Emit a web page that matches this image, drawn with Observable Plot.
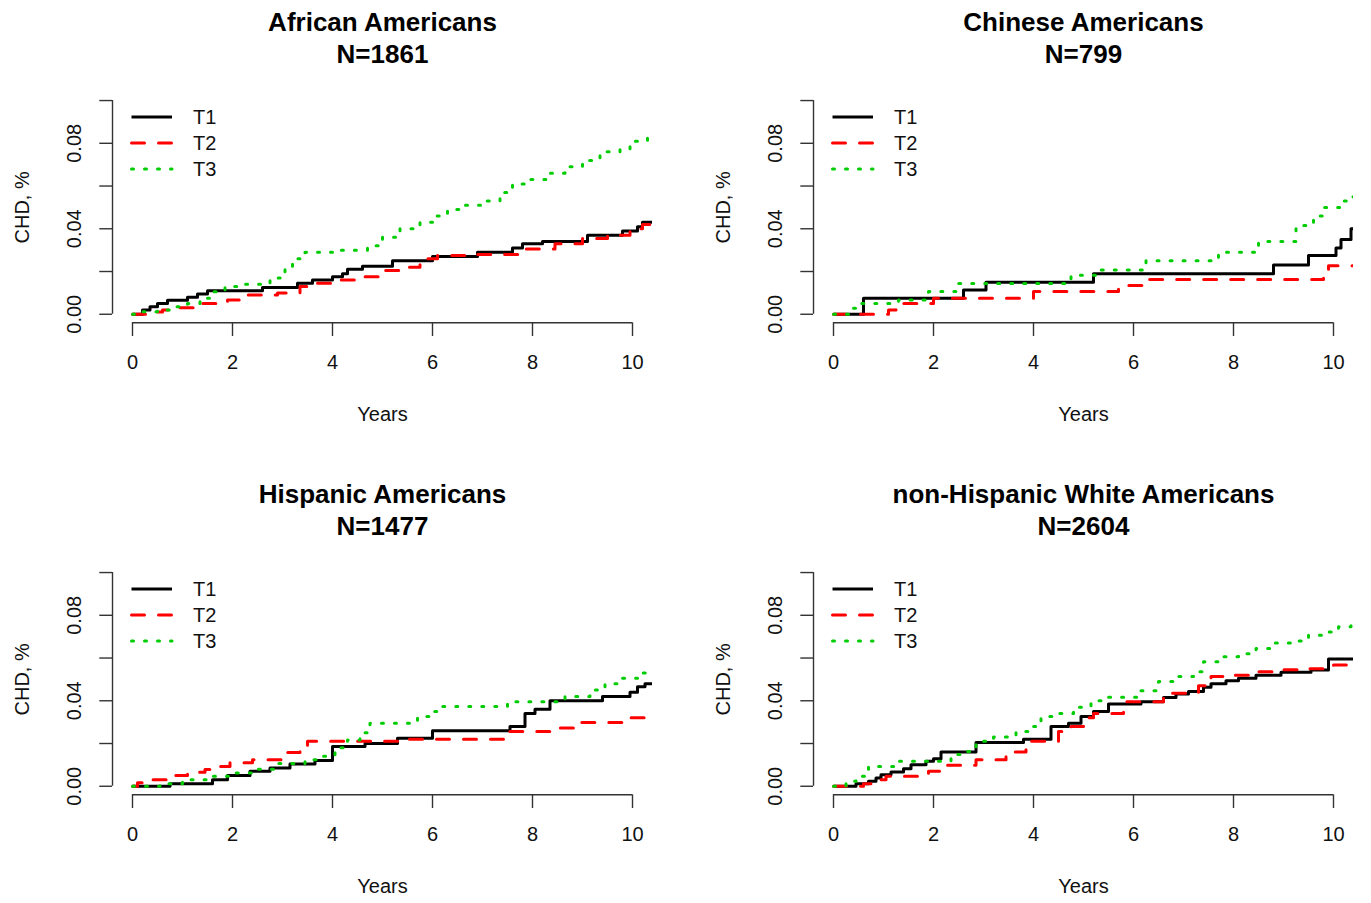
<!DOCTYPE html>
<html><head><meta charset="utf-8">
<script src="https://cdn.jsdelivr.net/npm/d3@7"></script>
<script src="https://cdn.jsdelivr.net/npm/@observablehq/plot@0.6"></script>
<style>
html,body{margin:0;padding:0;background:#fff;overflow:hidden}
#chart{position:relative;width:1371px;height:903px;font-family:"Liberation Sans",Arial,sans-serif;color:#111}
.panel{position:absolute}
.legend{position:absolute;left:130px;top:104px;font-size:20px;line-height:26px}
.legend .row{display:flex;align-items:center;height:26px}
.legend svg{display:block;margin-right:18px}
</style></head><body><div id="chart"></div>
<script>
// ---------- data ----------
const panelTitles = ["African Americans", "Chinese Americans", "Hispanic Americans", "non-Hispanic White Americans"];
const panelN = [1861, 799, 1477, 2604];
const groups = ["T1", "T2", "T3"];
const groupColors = ["#000000", "#ff0000", "#00cd00"];
const groupDash = [null, "13,14", "2,11"];
const xTicks = [0, 2, 4, 6, 8, 10];
const yTicks = [0, 0.02, 0.04, 0.06, 0.08, 0.10];
const yLabels = [0, 0.04, 0.08];
const followUpEnd = 10.6;

// African Americans
const africanT1Years = [0, 0.2, 0.35, 0.5, 0.7, 1.1, 1.3, 1.5, 2.6, 3.3, 3.6, 4.0, 4.2, 4.3, 4.6, 5.2, 6.0, 6.9, 7.6, 7.8, 8.2, 9.1, 9.8, 10.1, 10.2];
const africanT1Risk  = [0, 0.002, 0.0035, 0.005, 0.0065, 0.008, 0.0095, 0.011, 0.0125, 0.0145, 0.016, 0.0175, 0.019, 0.021, 0.0225, 0.025, 0.027, 0.029, 0.031, 0.033, 0.034, 0.037, 0.039, 0.041, 0.043];
const africanT2Years = [0, 0.3, 0.6, 0.9, 1.3, 1.9, 2.3, 2.9, 3.35, 3.7, 4.1, 4.55, 5.05, 5.35, 5.75, 6.1, 6.9, 7.85, 8.45, 9.0, 9.5, 9.95, 10.2];
const africanT2Risk  = [0, 0.001, 0.002, 0.003, 0.005, 0.0067, 0.009, 0.010, 0.013, 0.0145, 0.016, 0.0175, 0.0205, 0.022, 0.026, 0.0275, 0.028, 0.0305, 0.033, 0.0355, 0.037, 0.040, 0.042];
const africanT3Years = [0, 0.2, 0.5, 0.8, 1.1, 1.35, 1.6, 1.85, 2.2, 2.75, 3.05, 3.2, 3.45, 4.1, 4.7, 5.0, 5.35, 5.75, 6.0, 6.3, 6.55, 7.0, 7.35, 7.6, 7.85, 8.3, 8.65, 9.0, 9.35, 9.75, 9.95, 10.3];
const africanT3Risk  = [0, 0.0012, 0.002, 0.0035, 0.005, 0.0075, 0.0105, 0.013, 0.014, 0.017, 0.022, 0.026, 0.029, 0.030, 0.032, 0.036, 0.040, 0.043, 0.046, 0.049, 0.051, 0.053, 0.057, 0.061, 0.063, 0.066, 0.069, 0.072, 0.076, 0.077, 0.081, 0.084];

// Chinese Americans
const chineseT1Years = [0, 0.6, 2.6, 3.05, 5.2, 8.8, 9.5, 10.05, 10.15, 10.35];
const chineseT1Risk  = [0, 0.0075, 0.0113, 0.015, 0.019, 0.023, 0.0275, 0.031, 0.035, 0.040];
const chineseT2Years = [0, 1.1, 1.25, 1.4, 2.0, 4.0, 5.7, 6.3, 9.8, 9.9];
const chineseT2Risk  = [0, 0.002, 0.004, 0.005, 0.0075, 0.0106, 0.0134, 0.0163, 0.020, 0.0227];
const chineseT3Years = [0, 0.3, 0.5, 1.3, 1.9, 2.5, 4.75, 5.3, 6.25, 7.7, 8.5, 9.25, 9.6, 9.8, 10.15, 10.35];
const chineseT3Risk  = [0, 0.0028, 0.005, 0.0067, 0.0106, 0.0144, 0.0183, 0.0207, 0.025, 0.029, 0.034, 0.0415, 0.046, 0.050, 0.053, 0.055];

// Hispanic Americans
const hispanicT1Years = [0, 0.75, 1.6, 1.9, 2.35, 2.75, 3.15, 3.65, 4.0, 4.65, 5.3, 6.0, 7.55, 7.85, 8.05, 8.35, 9.4, 9.95, 10.1, 10.25];
const hispanicT1Risk  = [0, 0.0012, 0.003, 0.005, 0.007, 0.0085, 0.0104, 0.012, 0.0186, 0.020, 0.0225, 0.026, 0.028, 0.034, 0.036, 0.040, 0.042, 0.044, 0.0466, 0.048];
const hispanicT2Years = [0, 0.1, 0.4, 0.75, 1.1, 1.45, 1.7, 1.95, 2.4, 3.0, 3.35, 3.5, 5.5, 7.5, 8.4, 8.85, 9.8];
const hispanicT2Risk  = [0, 0.0016, 0.003, 0.005, 0.0065, 0.0078, 0.0093, 0.011, 0.0124, 0.0158, 0.018, 0.021, 0.022, 0.0256, 0.0272, 0.0298, 0.032];
const hispanicT3Years = [0, 0.55, 1.0, 1.5, 2.05, 2.4, 2.9, 3.45, 3.8, 4.05, 4.3, 4.55, 4.75, 5.7, 5.95, 6.2, 7.5, 8.65, 9.15, 9.45, 9.7, 10.1];
const hispanicT3Risk  = [0, 0.0012, 0.003, 0.0047, 0.0062, 0.008, 0.0106, 0.0124, 0.014, 0.018, 0.0217, 0.025, 0.0295, 0.0326, 0.035, 0.0373, 0.0396, 0.042, 0.045, 0.048, 0.0505, 0.053];

// non-Hispanic White Americans
const whiteT1Years = [0, 0.45, 0.7, 0.85, 0.95, 1.15, 1.4, 1.55, 1.85, 2.0, 2.15, 2.85, 3.8, 4.35, 4.7, 4.95, 5.2, 5.5, 6.15, 6.6, 6.85, 7.1, 7.4, 7.55, 7.85, 8.1, 8.45, 8.95, 9.55, 9.9];
const whiteT1Risk  = [0, 0.0012, 0.0023, 0.0039, 0.0054, 0.0067, 0.0082, 0.0101, 0.0117, 0.0129, 0.016, 0.0205, 0.022, 0.028, 0.0295, 0.0326, 0.035, 0.0385, 0.0396, 0.0415, 0.0432, 0.0443, 0.0463, 0.048, 0.0494, 0.0505, 0.052, 0.0533, 0.0544, 0.0595];
const whiteT2Years = [0, 0.6, 0.85, 1.05, 1.9, 2.25, 2.85, 3.45, 3.85, 4.5, 4.75, 5.0, 5.2, 5.8, 6.6, 7.3, 7.55, 8.0, 8.45, 8.95, 9.5, 10.0];
const whiteT2Risk  = [0, 0.0012, 0.003, 0.0047, 0.007, 0.0098, 0.0124, 0.016, 0.021, 0.0256, 0.028, 0.032, 0.034, 0.0396, 0.0435, 0.047, 0.0513, 0.052, 0.0536, 0.0545, 0.055, 0.0567];
const whiteT3Years = [0, 0.25, 0.45, 0.7, 1.3, 2.35, 2.6, 2.85, 3.2, 3.65, 3.9, 4.15, 4.45, 4.8, 5.15, 5.5, 6.15, 6.5, 6.85, 7.2, 7.4, 7.75, 8.1, 8.45, 8.8, 9.15, 9.5, 9.85, 10.1, 10.35];
const whiteT3Risk  = [0, 0.0023, 0.0047, 0.0093, 0.0117, 0.0148, 0.0163, 0.021, 0.023, 0.0256, 0.028, 0.0326, 0.034, 0.037, 0.040, 0.0416, 0.0447, 0.049, 0.0513, 0.0536, 0.0583, 0.0606, 0.062, 0.0645, 0.067, 0.068, 0.0707, 0.0722, 0.0746, 0.076];

const panelSeries = [
  [[africanT1Years, africanT1Risk], [africanT2Years, africanT2Risk], [africanT3Years, africanT3Risk]],
  [[chineseT1Years, chineseT1Risk], [chineseT2Years, chineseT2Risk], [chineseT3Years, chineseT3Risk]],
  [[hispanicT1Years, hispanicT1Risk], [hispanicT2Years, hispanicT2Risk], [hispanicT3Years, hispanicT3Risk]],
  [[whiteT1Years, whiteT1Risk], [whiteT2Years, whiteT2Risk], [whiteT3Years, whiteT3Risk]]
];

// ---------- layout ----------
const panelPos = [[0, 0], [701, 0], [0, 472], [701, 472]];
const W = 670, H = 431;
const xSpan = xTicks[xTicks.length - 1] - xTicks[0];
const xDomain = [xTicks[0] - 0.04 * xSpan, xTicks[xTicks.length - 1] + 0.04 * xSpan];
const ySpan = yTicks[yTicks.length - 1] - yTicks[0];
const yDomain = [yTicks[0] - 0.04 * ySpan, yTicks[yTicks.length - 1] + 0.04 * ySpan];
const xMid = (xTicks[0] + xTicks[xTicks.length - 1]) / 2;
const axisColor = "#333";

const chart = document.getElementById("chart");

panelSeries.forEach((series, i) => {
  const marks = [];
  series.forEach(([ts, vs], k) => {
    const rows = ts.map((t, j) => ({t, v: vs[j], g: groups[k]}));
    rows.push({t: followUpEnd, v: vs[vs.length - 1], g: groups[k]});
    marks.push(Plot.line(rows, {
      x: "t", y: "v", curve: "step-after",
      stroke: groupColors[k], strokeWidth: 3,
      strokeDasharray: groupDash[k],
      strokeLinecap: k === 0 ? "butt" : "round",
      strokeLinejoin: "round",
      clip: true
    }));
  });
  // axes
  marks.push(Plot.ruleX([xDomain[0]], {y1: yTicks[0], y2: yTicks[yTicks.length - 1], stroke: axisColor, strokeWidth: 1.4}));
  marks.push(Plot.ruleY([yDomain[0]], {x1: xTicks[0], x2: xTicks[xTicks.length - 1], stroke: axisColor, strokeWidth: 1.4}));
  marks.push(Plot.axisX(xTicks, {tickSize: 13.7, tickPadding: 18, fontSize: 20, stroke: axisColor, strokeWidth: 1.4, fill: "#111", label: null, tickFormat: d => String(d)}));
  marks.push(Plot.axisY(yTicks, {tickSize: 12.7, stroke: axisColor, strokeWidth: 1.4, tickFormat: () => "", label: null}));
  marks.push(Plot.text(yLabels, {y: d => d, text: d => d.toFixed(2), frameAnchor: "left", textAnchor: "middle", lineAnchor: "middle", dx: -38, rotate: -90, fontSize: 20, fill: "#111"}));
  // axis titles
  marks.push(Plot.text(["Years"], {x: () => xMid, frameAnchor: "bottom", lineAnchor: "middle", dy: 92, fontSize: 20, fill: "#111"}));
  marks.push(Plot.text(["CHD, %"], {frameAnchor: "left", textAnchor: "middle", lineAnchor: "middle", dx: -90, rotate: -90, fontSize: 20, fill: "#111"}));
  // panel title
  marks.push(Plot.text([panelTitles[i]], {x: () => xMid, frameAnchor: "top", lineAnchor: "middle", dy: -69.5, fontSize: 26, fontWeight: "bold", fill: "#000"}));
  marks.push(Plot.text(["N=" + panelN[i]], {x: () => xMid, frameAnchor: "top", lineAnchor: "middle", dy: -37.5, fontSize: 26, fontWeight: "bold", fill: "#000"}));

  const svg = Plot.plot({
    width: W, height: H,
    marginLeft: 112, marginRight: W - 652,
    marginTop: 91.5, marginBottom: H - 322.3,
    x: {domain: xDomain},
    y: {domain: yDomain},
    style: {fontFamily: '"Liberation Sans", Arial, sans-serif', fontSize: "20px", background: "white", overflow: "visible"},
    marks
  });

  const div = document.createElement("div");
  div.className = "panel";
  div.style.left = panelPos[i][0] + "px";
  div.style.top = panelPos[i][1] + "px";
  div.appendChild(svg);

  // legend
  const leg = document.createElement("div");
  leg.className = "legend";
  groups.forEach((g, k) => {
    const row = document.createElement("div");
    row.className = "row";
    const s = d3.create("svg").attr("width", 45).attr("height", 26);
    s.append("line").attr("x1", 1.5).attr("x2", 42).attr("y1", 13).attr("y2", 13)
      .attr("stroke", groupColors[k]).attr("stroke-width", 3)
      .attr("stroke-dasharray", groupDash[k])
      .attr("stroke-linecap", k === 0 ? "butt" : "round");
    row.appendChild(s.node());
    const lab = document.createElement("span");
    lab.textContent = g;
    row.appendChild(lab);
    leg.appendChild(row);
  });
  div.appendChild(leg);
  chart.appendChild(div);
});
</script>
</body></html>
